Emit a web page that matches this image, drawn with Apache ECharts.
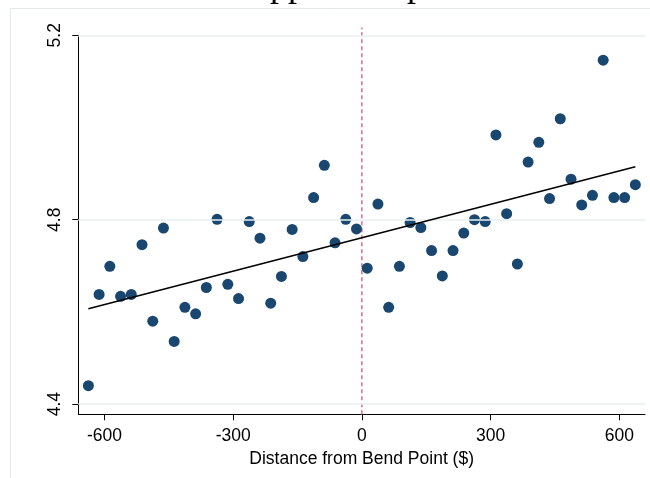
<!DOCTYPE html>
<html>
<head>
<meta charset="utf-8">
<script src="https://cdn.jsdelivr.net/npm/echarts@6/dist/echarts.min.js"></script>
<style>
html,body{margin:0;padding:0;background:#fff;}
#chart{width:650px;height:478px;}
</style>
</head>
<body>
<div id="chart"></div>
<script>
// Bin centers (distance from bend point, $)
const binCenters = [-637.5,-612.5,-587.5,-562.5,-537.5,-512.5,-487.5,-462.5,-437.5,-412.5,-387.5,-362.5,-337.5,-312.5,-287.5,-262.5,-237.5,-212.5,-187.5,-162.5,-137.5,-112.5,-87.5,-62.5,-37.5,-12.5,
  12.5,37.5,62.5,87.5,112.5,137.5,162.5,187.5,212.5,237.5,262.5,287.5,312.5,337.5,362.5,387.5,412.5,437.5,462.5,487.5,512.5,537.5,562.5,587.5,612.5,637.5];
// Bin means
const binMeans = [4.440,4.638,4.699,4.634,4.638,4.746,4.580,4.782,4.536,4.610,4.596,4.653,4.801,4.660,4.629,4.796,4.760,4.619,4.677,4.779,4.720,4.848,4.918,4.750,4.801,4.780,
  4.695,4.834,4.610,4.699,4.794,4.783,4.733,4.678,4.733,4.771,4.800,4.796,4.984,4.813,4.704,4.925,4.968,4.846,5.019,4.888,4.832,4.853,5.146,4.848,4.848,4.876];
// Fitted line end points
const fitX = [-637.5, 637.5];
const fitY = [4.607, 4.915];
// Axis ticks
const xTicks = [-600, -300, 0, 300, 600];
const yTicks = [4.4, 4.8, 5.2];
const xRange = [-661, 660];
const yRange = [4.378, 5.2];
// Cutoff line
const cutoffX = [0, 0];
const cutoffY = [4.378, 5.217];
const xTitle = 'Distance from Bend Point ($)';
const chartTitle = 'Upper Sample';

const chart = echarts.init(document.getElementById('chart'), null, {renderer:'canvas'});
const font = 'Liberation Sans, Arial, sans-serif';
const option = {
  animation: false,
  backgroundColor: '#ffffff',
  graphic: [
    {type:'rect', z:-10, silent:true, shape:{x:10.5, y:8.5, width:700, height:520}, style:{fill:'none', stroke:'#e3eaec', lineWidth:1}},
    {type:'text', silent:true, left:244, top:-31, style:{text:chartTitle, font:'36px "Liberation Serif", "Times New Roman", serif', fill:'#000'}}
  ],
  grid: {left:78.3, right:5, top:35.3, bottom:63.7, containLabel:false},
  xAxis: {
    type:'value', min:xRange[0], max:xRange[1],
    name: xTitle, nameLocation:'middle', nameGap:28,
    nameTextStyle:{fontFamily:font, fontSize:17.5, color:'#000'},
    axisLine:{show:true, onZero:false, lineStyle:{color:'#000', width:1}},
    axisTick:{show:true, length:6, lineStyle:{color:'#000'}, customValues:xTicks},
    axisLabel:{show:true, margin:13, fontFamily:font, fontSize:17.5, color:'#000', customValues:xTicks, formatter:v=>String(v)},
    splitLine:{show:false}
  },
  yAxis: {
    type:'value', min:yRange[0], max:yRange[1],
    axisLine:{show:true, onZero:false, lineStyle:{color:'#000', width:1}},
    axisTick:{show:true, length:6, lineStyle:{color:'#000'}, customValues:yTicks},
    axisLabel:{show:true, rotate:90, margin:14, fontFamily:font, fontSize:17.5, color:'#000', customValues:yTicks, formatter:v=>Number(v).toFixed(1)},
    splitLine:{show:false}
  },
  series: [
    {
      type:'scatter', data:[], z:1, silent:true,
      markLine:{silent:true, symbol:['none','none'], label:{show:false},
        lineStyle:{color:'#e8f0f2', width:1.5, type:'solid'},
        data: yTicks.map(v=>({yAxis:v}))}
    },
    {
      type:'line', z:3, silent:true, clip:false, showSymbol:false, symbol:'none',
      data: cutoffX.map((x,i)=>[x, cutoffY[i]]),
      lineStyle:{color:'#d9627e', width:1.4, type:[4,3]}
    },
    {
      type:'scatter', z:4, silent:true,
      data: binCenters.map((x,i)=>[x, binMeans[i]]),
      symbol:'circle', symbolSize:11,
      itemStyle:{color:'#1a476f', opacity:1}
    },
    {
      type:'line', z:5, silent:true, showSymbol:false, symbol:'none',
      data: fitX.map((x,i)=>[x, fitY[i]]),
      lineStyle:{color:'#000', width:1.5}
    }
  ]
};
chart.setOption(option);
</script>
</body>
</html>
